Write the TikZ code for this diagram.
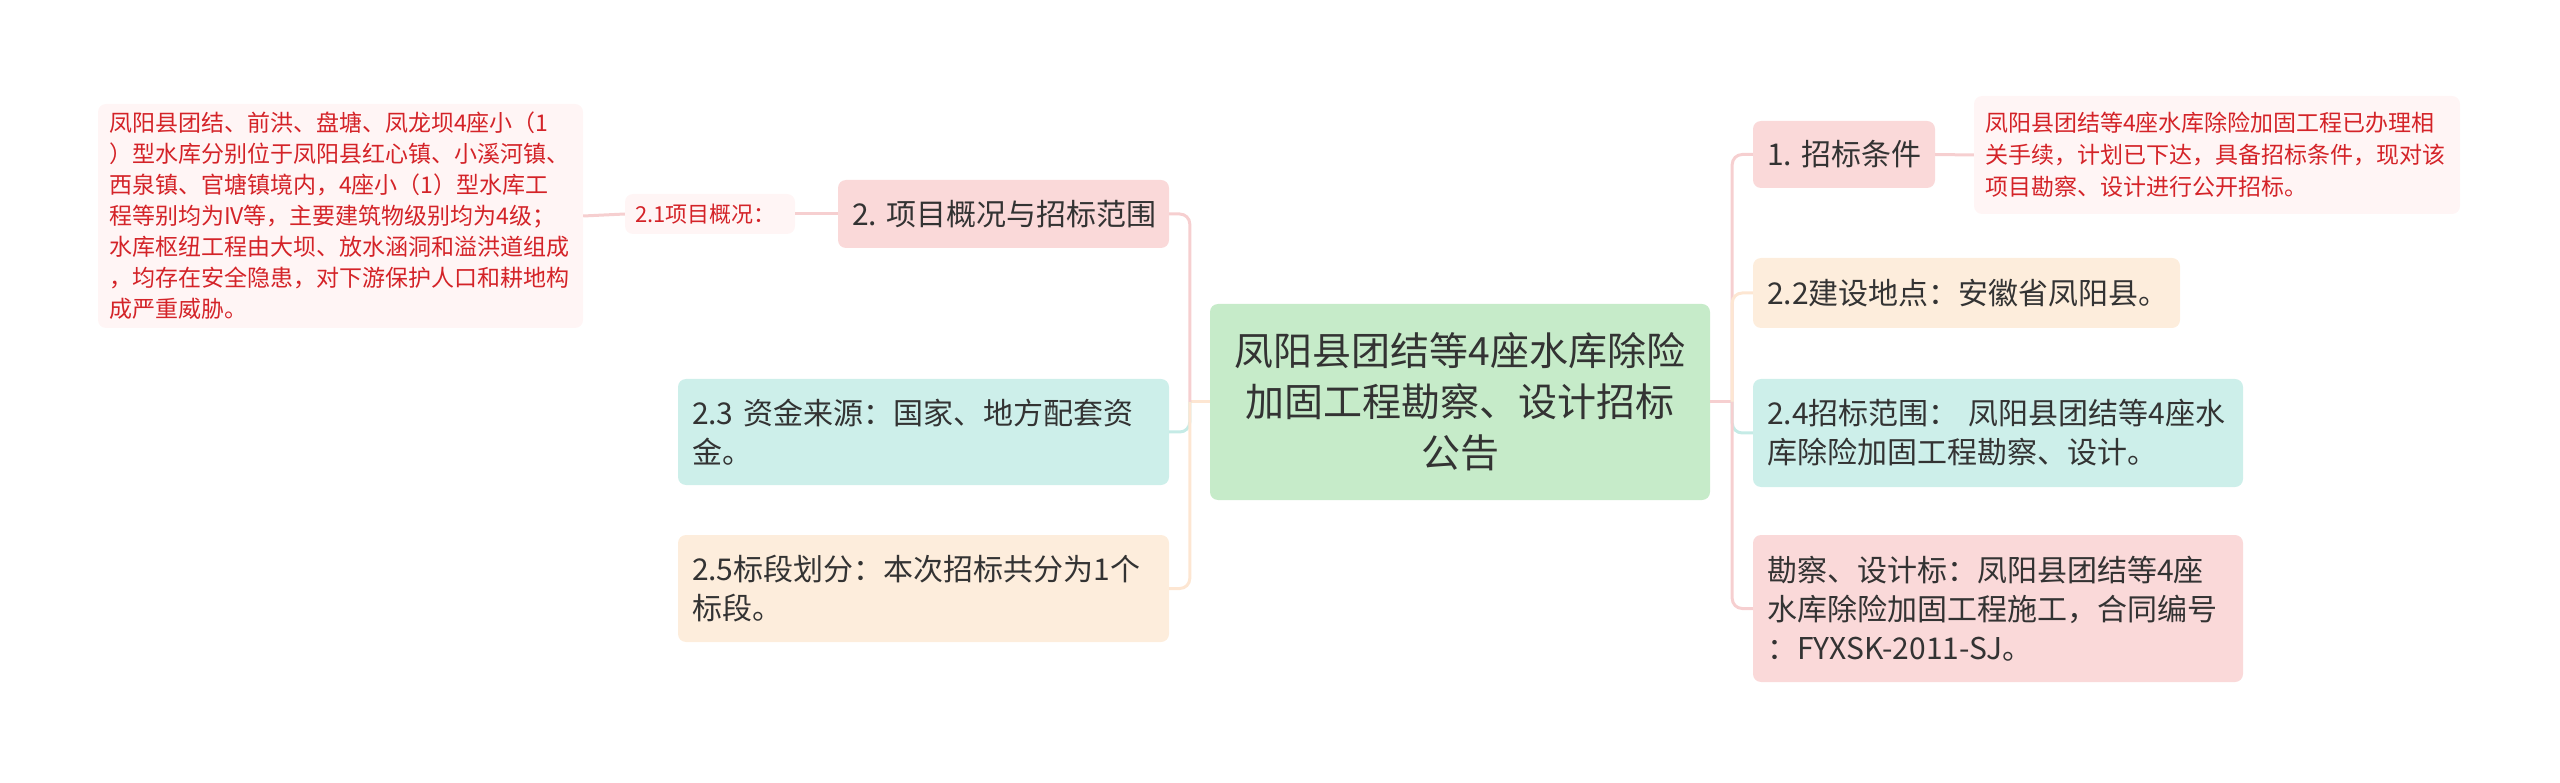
\documentclass[tikz,border=0pt]{standalone}
\usepackage{fontspec}
\setmainfont{Noto Sans CJK SC}
\usepackage{tikz}
\usetikzlibrary{calc,positioning}
\definecolor{rootgreen}{HTML}{C6EBC9}
\definecolor{boxpink}{HTML}{FAD9D9}
\definecolor{boxteal}{HTML}{CDEFEA}
\definecolor{boxpeach}{HTML}{FDEDDC}
\definecolor{notebg}{HTML}{FFF5F5}
\definecolor{notered}{HTML}{D42328}
\definecolor{linepink}{HTML}{F6CFD0}
\definecolor{lineteal}{HTML}{C5EBE6}
\definecolor{linepeach}{HTML}{FDE6D2}
\definecolor{txtdark}{HTML}{333333}

\begin{document}
\begin{tikzpicture}[x=1pt,y=-1pt,
	box/.style={rectangle, rounded corners=8pt, inner xsep=14pt, inner ysep=3pt, align=left, text=txtdark, font=\fontsize{30}{39}\selectfont},
	note/.style={box, fill=notebg, text=notered, inner xsep=11pt, font=\fontsize{23}{31}\selectfont},
	link/.style={line width=3pt, rounded corners=10pt}]
			\useasboundingbox (0,0) rectangle (2560,783);
			% centre
			\node[box, fill=rootgreen, align=center, text width=472pt, minimum height=196pt, font=\fontsize{39}{51}\selectfont] (root) at (1460,402) {凤阳县团结等4座水库除险\\加固工程勘察、设计招标\\公告};
			% left side
			\node[box, fill=boxpink, text width=303pt, minimum height=68pt] (proj) at (1003.5,214) {2.~项目概况与招标范围};
			\node[note, inner xsep=10pt, text width=150pt, minimum height=40pt, font=\fontsize{22}{28}\selectfont] (projsum) at (710,214) {2.1项目概况：};
			\node[note, text width=463pt, minimum height=224pt] (projnote) at (340.5,216) {凤阳县团结、前洪、盘塘、凤龙坝4座小（1\\）型水库分别位于凤阳县红心镇、小溪河镇、\\西泉镇、官塘镇境内，4座小（1）型水库工\\程等别均为IV等，主要建筑物级别均为4级；\\水库枢纽工程由大坝、放水涵洞和溢洪道组成\\，均存在安全隐患，对下游保护人口和耕地构\\成严重威胁。};
			\node[box, fill=boxteal, text width=463pt, minimum height=106pt] (fund) at (923.5,432) {2.3~资金来源：国家、地方配套资\\金。};
			\node[box, fill=boxpeach, text width=463pt, minimum height=107pt] (lots) at (923.5,588.5) {2.5标段划分：本次招标共分为1个\\标段。};
			% right side
			\node[box, fill=boxpink, text width=154pt, minimum height=67pt] (cond) at (1844,154.5) {1.~招标条件};
			\node[note, text width=464pt, minimum height=118pt, font=\fontsize{23}{32}\selectfont] (condnote) at (2217,155) {凤阳县团结等4座水库除险加固工程已办理相\\关手续，计划已下达，具备招标条件，现对该\\项目勘察、设计进行公开招标。};
			\node[box, fill=boxpeach, text width=399pt, minimum height=70pt] (site) at (1966.5,293) {2.2建设地点：安徽省凤阳县。};
			\node[box, fill=boxteal, text width=462pt, minimum height=108pt] (scope) at (1998,433) {2.4招标范围：~凤阳县团结等4座水\\库除险加固工程勘察、设计。};
			\node[box, fill=boxpink, text width=462pt, minimum height=147pt] (survey) at (1998,608.5) {勘察、设计标：凤阳县团结等4座\\水库除险加固工程施工，合同编号\\：FYXSK-2011-SJ。};
			% connectors
			\coordinate (lt) at ($(root.west)+(-20,0)$);
			\coordinate (rt) at ($(root.east)+(22,0)$);
			\draw[link, linepeach] (root.west) -- (lt);
			\draw[link, linepink] (lt) |- (proj.east);
			\draw[link, lineteal] (lt) |- (fund.east);
			\draw[link, linepeach] (lt) |- (lots.east);
			\draw[link, linepink] (proj.west) -- (projsum.east);
			\draw[link, linepink] (projsum.west) -- (projnote.east);
			\draw[link, linepink] (root.east) -- (rt);
			\draw[link, linepink] (rt) |- (cond.west);
			\draw[link, linepeach] (rt) |- (site.west);
			\draw[link, lineteal] (rt) |- (scope.west);
			\draw[link, linepink] (rt) |- (survey.west);
			\draw[link, linepink] (cond.east) -- (condnote.west);
	\end{tikzpicture}
\end{document}
